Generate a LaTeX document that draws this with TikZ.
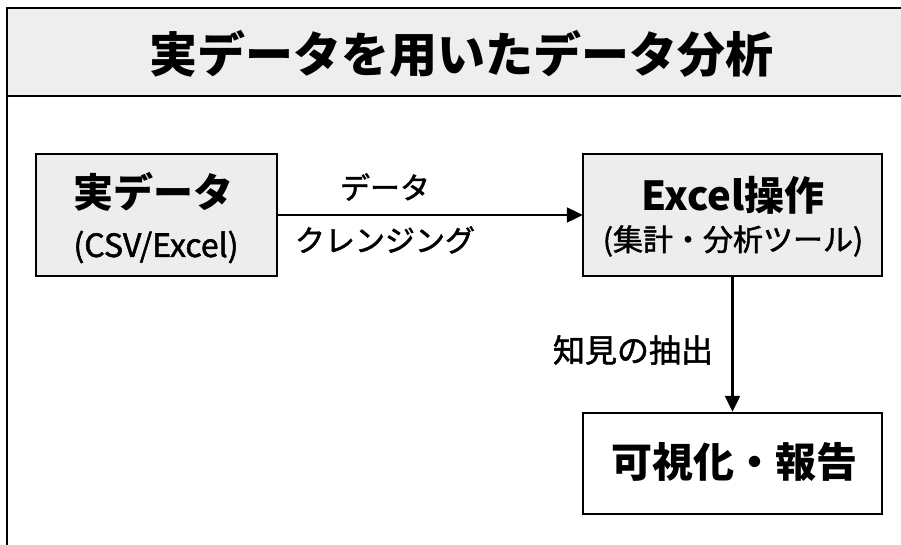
\documentclass[tikz,border=0pt]{standalone}
\usepackage{fontspec}
\setmainfont{Noto Sans CJK JP}
\newfontfamily\jpmed{Noto Sans CJK JP}[FakeBold=1.6]
\usetikzlibrary{arrows.meta}
\definecolor{boxgray}{HTML}{EDEDED}
\definecolor{titlegray}{HTML}{EEEEEE}
\tikzset{
  procbox/.style={draw=black, line width=2.4pt, fill=boxgray, inner sep=0pt},
  whitebox/.style={draw=black, line width=2.4pt, fill=white, inner sep=0pt},
  flow/.style={line width=2.2pt, -{Triangle[length=16pt,width=15pt]}},
  lbl/.style={font=\jpmed\fontsize{30}{34}\selectfont, inner sep=0pt}
}
\begin{document}
\begin{tikzpicture}[x=1pt,y=-1pt]
\useasboundingbox (0,0) rectangle (901,544);
\fill[white] (0,0) rectangle (901,544);
% title band and frame
\fill[titlegray] (7,8) rectangle (905,96);
\draw[line width=2.6pt] (7,548) -- (7,8) -- (905,8);
\draw[line width=2.6pt] (7,96) -- (905,96);
\node[inner sep=0pt, font=\fontsize{48}{52}\selectfont\bfseries] (title) at (461,54) {実データを用いたデータ分析};
% boxes
\draw[procbox] (36,154) rectangle (277,276);
\node[inner sep=0pt, minimum width=241pt, minimum height=122pt] (box1) at (156.5,215) {};
\node[inner sep=0pt, font=\fontsize{40}{44}\selectfont\bfseries] (t1a) at (153,192) {実データ};
\node[inner sep=0pt, font=\jpmed\fontsize{32}{36}\selectfont] (t1b) at (156,247) {(CSV/Excel)};
\draw[procbox] (583,154) rectangle (882,276);
\node[inner sep=0pt, minimum width=299pt, minimum height=122pt] (box2) at (732.5,215) {};
\node[inner sep=0pt, font=\fontsize{40}{44}\selectfont\bfseries] (t2a) at (733,195) {Excel操作};
\node[inner sep=0pt, font=\jpmed\fontsize{30}{34}\selectfont] (t2b) at (733,241) {(集計・分析ツール)};
\node[whitebox, minimum width=299pt, minimum height=101pt] (box3) at (732.5,463.5) {};
\node[inner sep=0pt, font=\fontsize{41}{45}\selectfont\bfseries] (t3) at (734,462) {可視化・報告};
% connectors
\draw[flow] (box1.east) -- (box2.west);
\draw[flow] (box2.south) -- (box3.north);
\node[lbl] (l1) at (385,187) {データ};
\node[lbl] (l2) at (385,240) {クレンジング};
\node[lbl, font=\jpmed\fontsize{32}{36}\selectfont] (l3) at (633,350) {知見の抽出};
\end{tikzpicture}
\end{document}
